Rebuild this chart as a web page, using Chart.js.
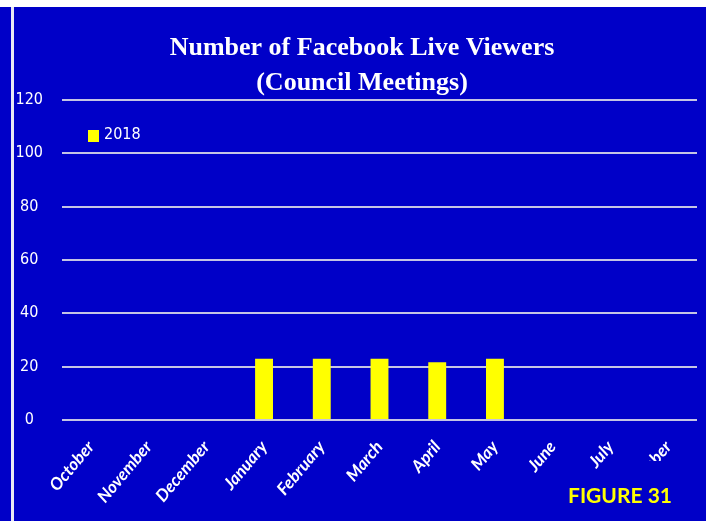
<!DOCTYPE html>
<html>
<head>
<meta charset="utf-8">
<script src="https://cdn.jsdelivr.net/npm/chart.js@4.4.1/dist/chart.umd.min.js"></script>
<style>
  html, body { margin: 0; padding: 0; background: #ffffff; }
  #wrap { position: relative; width: 710px; height: 521px; overflow: hidden; }
  #panel { position: absolute; left: 0; top: 7px; width: 706px; height: 514px; background: #0000c8; }
  #edge { position: absolute; left: 11px; top: 7px; width: 3px; height: 514px; background: #e8e8f4; }
  #wrap canvas { position: absolute; left: 0; top: 0; }
</style>
</head>
<body>
<div id="wrap">
  <div id="panel"></div>
  <div id="edge"></div>
  <canvas id="barChart" width="710" height="521"></canvas>
</div>
<script>
const months = ["October", "November", "December", "January", "February", "March",
  "April", "May", "June", "July", "September"];
const viewers2018 = [null, null, null, 23, 23, 23, 21.7, 23, null, null, null];
const seriesName = "2018";
const titleLines = ["Number of Facebook Live Viewers", "(Council Meetings)"];
const figureLabel = "FIGURE 31";

const narrowFont = "'DejaVu Sans Condensed', 'Liberation Sans Narrow', 'Liberation Sans'";

// title, legend and the figure tag are drawn by hand so they land where the original has them
const extras = {
  id: "extras",
  afterDraw(chart) {
    const ctx = chart.ctx;
    ctx.save();
    ctx.fillStyle = "#ffffff";
    ctx.textAlign = "center";
    ctx.textBaseline = "alphabetic";
    ctx.font = "bold 26px 'Liberation Serif'";
    ctx.fillText(titleLines[0], 362, 55);
    ctx.fillText(titleLines[1], 362, 90);

    ctx.fillStyle = chart.data.datasets[0].backgroundColor;
    ctx.fillRect(88, 130, 11, 12);
    ctx.fillStyle = "#ffffff";
    ctx.textAlign = "left";
    ctx.textBaseline = "middle";
    ctx.font = "16px " + narrowFont;
    ctx.fillText(chart.data.datasets[0].label, 104, 135);

    // the figure tag box sits over the end of the last month label
    ctx.fillStyle = "#0000c8";
    ctx.fillRect(604, 461, 102, 60);
    ctx.fillStyle = "#ffff00";
    ctx.font = "bold 21px Lato";
    ctx.textBaseline = "alphabetic";
    ctx.fillText(figureLabel, 568, 503);
    ctx.restore();
  }
};

new Chart(document.querySelector("#barChart"), {
  type: "bar",
  data: {
    labels: months,
    datasets: [{
      label: seriesName,
      data: viewers2018,
      backgroundColor: "#ffff00",
      barPercentage: 0.31,
      categoryPercentage: 1
    }]
  },
  options: {
    responsive: false,
    animation: false,
    layout: { padding: { left: 12, right: 13, top: 100, bottom: 0 } },
    plugins: {
      legend: { display: false },
      title: { display: false },
      tooltip: { enabled: false }
    },
    scales: {
      x: {
        grid: { display: false },
        border: { display: false },
        ticks: {
          color: "#ffffff",
          font: { family: "Lato", size: 17, style: "italic", weight: "bold" },
          minRotation: 50,
          maxRotation: 50,
          padding: 9,
          autoSkip: false
        },
        afterFit(scale) { scale.height = 101; }
      },
      y: {
        min: 0,
        max: 120,
        grid: { color: "#c4c4e4", lineWidth: 2, drawTicks: false },
        border: { display: false },
        ticks: {
          stepSize: 20,
          color: "#ffffff",
          crossAlign: "center",
          padding: 19,
          font: { family: narrowFont, size: 16 }
        },
        afterFit(scale) { scale.width = 50; }
      }
    }
  },
  plugins: [extras]
});
</script>
</body>
</html>
